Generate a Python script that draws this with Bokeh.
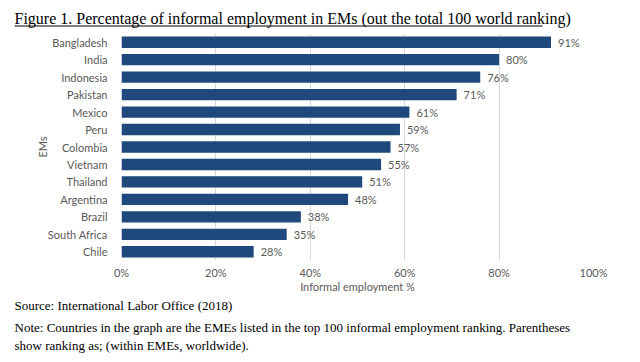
from bokeh.plotting import figure
from bokeh.layouts import column
from bokeh.models import ColumnDataSource, Label, NumeralTickFormatter, FixedTicker, Range1d
from bokeh.embed import file_html
from bokeh.resources import INLINE

countries = ["Bangladesh", "India", "Indonesia", "Pakistan", "Mexico", "Peru", "Colombia",
             "Vietnam", "Thailand", "Argentina", "Brazil", "South Africa", "Chile"]
shares = [0.91, 0.80, 0.76, 0.71, 0.61, 0.59, 0.57, 0.55, 0.51, 0.48, 0.38, 0.35, 0.28]
x_ticks = [0, 0.2, 0.4, 0.6, 0.8, 1.0]

title_text = "Figure 1. Percentage of informal employment in EMs (out the total 100 world ranking)"
source_text = "Source: International Labor Office (2018)"
note_line1 = ("Note: Countries in the graph are the EMEs listed in the top 100 informal employment "
              "ranking. Parentheses")
note_line2 = "show ranking as; (within EMEs, worldwide)."

SERIF = "Liberation Serif"
SANS = "Lato"
GREY = "#595959"


def text_panel(height):
    """A blank strip whose data units are pixels, y growing downward."""
    f = figure(width=640, height=height, output_backend="svg", toolbar_location=None,
               x_axis_type=None, y_axis_type=None, frame_align=False,
               x_range=Range1d(0, 640), y_range=Range1d(height, 0),
               min_border=0, min_border_left=0, min_border_right=0,
               min_border_top=0, min_border_bottom=0)
    f.grid.visible = False
    f.outline_line_color = None
    return f


# heading with underline
head = text_panel(30)
head.add_layout(Label(x=14, y=18, text=title_text, text_font=SERIF, text_font_size="16px",
                      text_color="#000000", text_baseline="middle"))
head.segment(x0=[14], y0=[25.5], x1=[542], y1=[25.5], line_color="#000000", line_width=1)

# main bar chart
src = ColumnDataSource(dict(
    country=countries,
    share=shares,
    label=[f"{round(v * 100)}%" for v in shares],
))

p = figure(width=640, height=266, output_backend="svg", toolbar_location=None,
           y_range=list(reversed(countries)), x_range=(0, 1.0), frame_align=False,
           min_border_left=121, min_border_right=47, min_border_top=3, min_border_bottom=36)
p.outline_line_color = None

p.hbar(y="country", right="share", height=0.65, source=src,
       fill_color="#1f497d", line_color=None)
p.text(x="share", y="country", text="label", source=src, x_offset=7,
       text_baseline="middle", text_font_size="11px", text_color=GREY,
       text_font={"value": SANS})

p.xaxis.ticker = FixedTicker(ticks=x_ticks)
p.xaxis.formatter = NumeralTickFormatter(format="0%")
for ax in (p.xaxis[0], p.yaxis[0]):
    ax.axis_line_color = None
    ax.major_tick_line_color = None
    ax.minor_tick_line_color = None
    ax.major_label_text_font = SANS
    ax.major_label_text_font_size = "11px"
    ax.major_label_text_color = GREY
    ax.axis_label_text_font = SANS
    ax.axis_label_text_font_size = "11px"
    ax.axis_label_text_color = GREY
    ax.axis_label_text_font_style = "normal"
p.xaxis.axis_label = "Informal employment %"
p.yaxis.axis_label = "EMs"
p.xaxis.major_label_standoff = -1
p.xaxis.axis_label_standoff = -2
p.yaxis.major_label_standoff = 8
p.yaxis.axis_label_standoff = -4

p.xgrid.grid_line_color = "#d9d9d9"
p.ygrid.grid_line_color = None

# source and note
foot = text_panel(66)
for y, txt in ((9, source_text), (31, note_line1), (49, note_line2)):
    foot.add_layout(Label(x=14, y=y, text=txt, text_font=SERIF, text_font_size="13px",
                          text_color="#000000", text_baseline="middle"))

layout = column(head, p, foot, spacing=0)
open("out.html", "w").write(file_html(layout, INLINE))
